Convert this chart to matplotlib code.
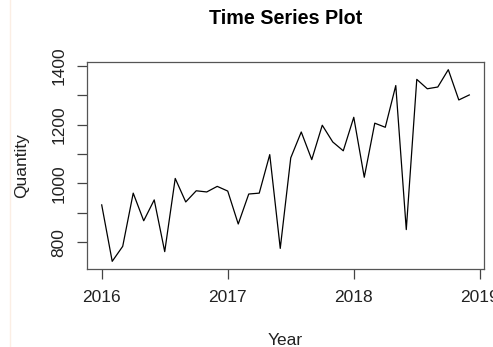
import numpy as np
import matplotlib.pyplot as plt
from matplotlib.lines import Line2D

plt.rcParams['font.family'] = ['Liberation Sans', 'DejaVu Sans']

# monthly quantities, Jan 2016 - Dec 2018
qty_2016 = [927, 735, 786, 967, 873, 944, 768, 1017, 937, 975, 971, 990]
qty_2017 = [974, 862, 964, 967, 1098, 779, 1087, 1175, 1081, 1198, 1141, 1111]
qty_2018 = [1225, 1021, 1205, 1191, 1333, 843, 1354, 1322, 1328, 1387, 1284, 1301]

quantity = np.array(qty_2016 + qty_2017 + qty_2018)
t = 2016 + np.arange(len(quantity)) / 12

fig = plt.figure(figsize=(4.93, 3.47), dpi=100)
ax = fig.add_axes([87/493, 78/347, 397/493, 207/347])

ax.plot(t, quantity, color='black', lw=0.9)

# R style 4% padding on both axes
xr = t.max() - t.min()
yr = quantity.max() - quantity.min()
ax.set_xlim(t.min() - 0.04*xr, t.max() + 0.04*xr)
ax.set_ylim(quantity.min() - 0.04*yr, quantity.max() + 0.04*yr)

ax.set_xticks([2016, 2017, 2018, 2019])
ax.set_xticklabels(['2016', '2017', '2018', '2019'])
ax.set_yticks([800, 900, 1000, 1100, 1200, 1300, 1400])
ax.set_yticklabels(['800', '', '1000', '', '1200', '', '1400'], rotation=90, va='center')
ax.tick_params(axis='both', length=7, width=0.9, color='#444444', labelsize=12.5,
               labelcolor='#222222', pad=8)

for s in ax.spines.values():
    s.set_color('#555555')
    s.set_linewidth(0.9)

ax.set_title('Time Series Plot', fontsize=14.2, fontweight='bold', pad=27)
ax.set_xlabel('Year', fontsize=12.5, labelpad=20, color='#222222')
ax.set_ylabel('Quantity', fontsize=12.5, labelpad=16, color='#222222')

# faint page edge
fig.add_artist(Line2D([10/493, 10/493], [0, 1], color='#fbeee4', lw=1))

fig.savefig('out.png', dpi=100)
